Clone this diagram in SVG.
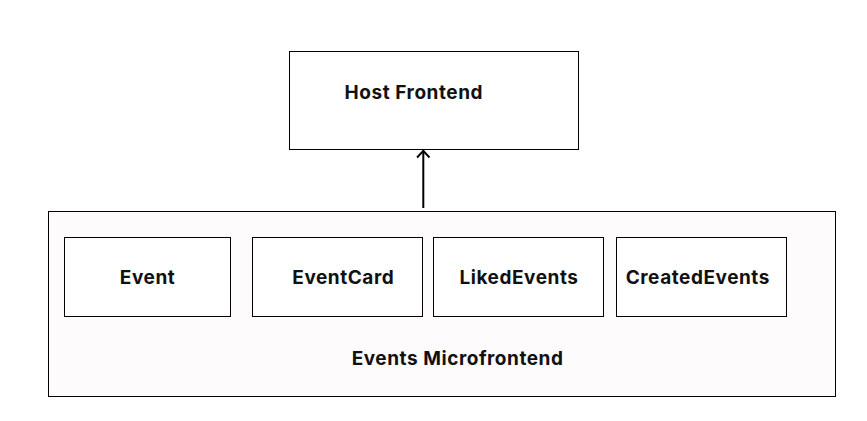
<svg xmlns="http://www.w3.org/2000/svg" width="867" height="421" viewBox="0 0 867 421">
<style>
.box{fill:#ffffff;stroke:#000000;stroke-width:1}
.outer{fill:#fdfbfc;stroke:#000000;stroke-width:1}
.lbl{font-family:Inter,"Liberation Sans",sans-serif;font-size:19px;font-weight:700;letter-spacing:0.55px;fill:#111111;text-anchor:middle}
.conn{stroke:#000000;stroke-width:2;fill:none}
</style>
<defs>
<marker id="arr" viewBox="0 0 10 14" refX="9" refY="7" markerWidth="10" markerHeight="14" markerUnits="userSpaceOnUse" orient="auto">
<path d="M2,0.8 L8.6,7 L2,13.2" fill="none" stroke="#000" stroke-width="2"/>
</marker>
</defs>
<rect width="867" height="421" fill="#ffffff"/>
<g id="events-microfrontend">
<rect class="outer" x="48.5" y="211.5" width="787" height="185"/>
<text class="lbl" x="457.6" y="364.5">Events Microfrontend</text>
</g>
<g id="host-frontend">
<rect class="box" x="289.5" y="51.5" width="289" height="98"/>
<text class="lbl" x="413.8" y="98.5">Host Frontend</text>
</g>
<g id="event">
<rect class="box" x="64.5" y="237.5" width="166" height="79"/>
<text class="lbl" x="147.6" y="284">Event</text>
</g>
<g id="eventcard">
<rect class="box" x="252.5" y="237.5" width="170" height="79"/>
<text class="lbl" x="343.3" y="284">EventCard</text>
</g>
<g id="likedevents">
<rect class="box" x="433.5" y="237.5" width="170" height="79"/>
<text class="lbl" x="519" y="284">LikedEvents</text>
</g>
<g id="createdevents">
<rect class="box" x="616.5" y="237.5" width="170" height="79"/>
<text class="lbl" x="697.8" y="284">CreatedEvents</text>
</g>
<g id="connectors">
<line class="conn" x1="423.3" y1="208" x2="423.3" y2="150.5" marker-end="url(#arr)"/>
</g>
</svg>
